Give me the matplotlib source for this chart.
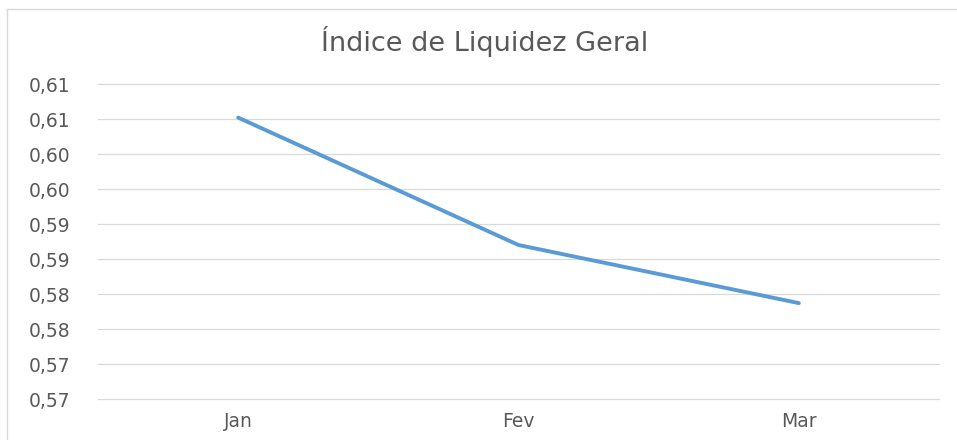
import matplotlib
matplotlib.use("Agg")
import matplotlib.pyplot as plt
from matplotlib.lines import Line2D
import decimal

categories = ["Jan", "Fev", "Mar"]
values = [0.6052, 0.5870, 0.5787]
yticks = [0.565, 0.570, 0.575, 0.580, 0.585, 0.590, 0.595, 0.600, 0.605, 0.610]
title = "Índice de Liquidez Geral"

plt.rcParams['font.family'] = ['DejaVu Sans']

fig = plt.figure(figsize=(9.57, 4.40), dpi=100)
ax = fig.add_axes([98/957, 1 - 399/440, 841/957, (399 - 84)/440])

x = list(range(len(categories)))
ax.plot(x, values, color="#5B9BD5", lw=2.8, solid_capstyle="round", zorder=3)

ax.set_xlim(-0.5, len(categories) - 0.5)
ax.set_ylim(yticks[0], yticks[-1])
ax.set_yticks(yticks)
labels = []
for v in yticks:
    d = decimal.Decimal(str(v)).quantize(decimal.Decimal("0.01"), rounding=decimal.ROUND_HALF_UP)
    labels.append(str(d).replace(".", ","))
ax.set_yticklabels(labels)
ax.set_xticks(x)
ax.set_xticklabels(categories)

ax.grid(axis="y", color="#D9D9D9", lw=0.9)
for gl in ax.get_ygridlines():
    gl.set_clip_on(False)
ax.set_axisbelow(True)
for s in ax.spines.values():
    s.set_visible(False)
ax.tick_params(axis="both", length=0, labelsize=13.5, colors="#595959")
ax.tick_params(axis="y", pad=20)
ax.tick_params(axis="x", pad=9)

fig.text(484.5/957, 1 - 51/440, title, ha="center", va="baseline", fontsize=19.5, color="#595959")

# chart area border (cropped Excel chart)
fig.add_artist(Line2D([7/957, 7/957], [0, 1 - 9/440], transform=fig.transFigure, color="#D9D9D9", lw=1))
fig.add_artist(Line2D([7/957, 1], [1 - 9/440, 1 - 9/440], transform=fig.transFigure, color="#D9D9D9", lw=1))

fig.savefig("out.png", dpi=100)
